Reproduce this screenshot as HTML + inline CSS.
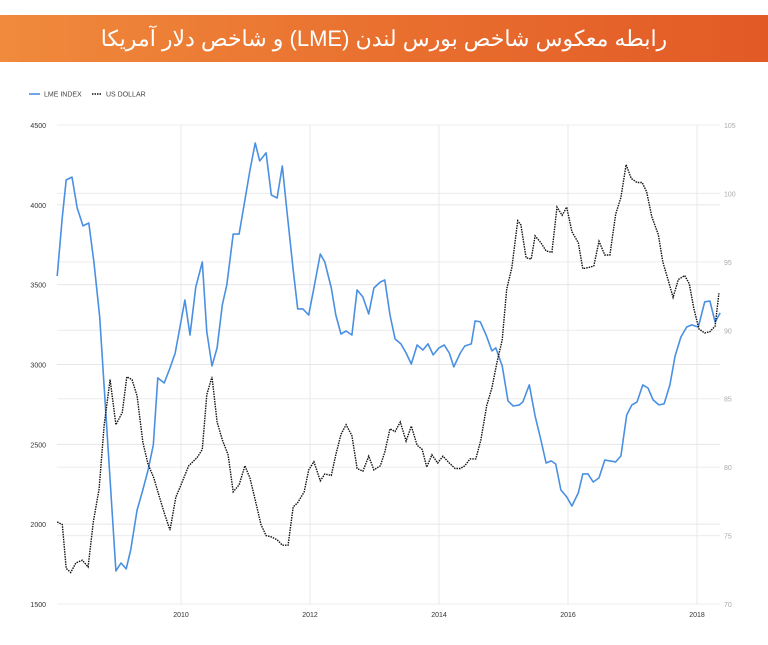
<!DOCTYPE html>
<html><head><meta charset="utf-8">
<style>
body{margin:0;width:768px;height:645px;background:#fff;overflow:hidden;font-family:"Liberation Sans","Noto Sans CJK SC",sans-serif;}
#hdr{position:absolute;left:0;top:15px;width:768px;height:47px;background:linear-gradient(90deg,#f08a3c,#e9702f 50%,#e25a26);color:#fff;font-size:22px;text-align:center;line-height:47px;direction:rtl;font-family:"Liberation Sans","Noto Sans CJK SC","WenQuanYi Zen Hei",sans-serif;}
svg{position:absolute;left:0;top:0;}
</style></head><body>
<div id="hdr">رابطه معکوس شاخص بورس لندن (LME) و شاخص دلار آمریکا</div>
<svg id="c" width="768" height="645"></svg>
<script>
const lmeDates=[2008.08,2008.16,2008.22,2008.31,2008.39,2008.48,2008.57,2008.65,2008.74,2008.99,2009.07,2009.15,2009.22,2009.32,2009.40,2009.49,2009.57,2009.64,2009.74,2009.83,2009.91,2010.06,2010.14,2010.23,2010.33,2010.40,2010.48,2010.56,2010.64,2010.71,2010.81,2010.90,2010.99,2011.07,2011.15,2011.22,2011.32,2011.40,2011.49,2011.57,2011.64,2011.74,2011.81,2011.89,2011.98,2012.06,2012.16,2012.23,2012.33,2012.40,2012.48,2012.56,2012.65,2012.73,2012.82,2012.91,2012.99,2013.09,2013.16,2013.24,2013.32,2013.41,2013.49,2013.57,2013.66,2013.75,2013.83,2013.91,2014.00,2014.08,2014.16,2014.23,2014.33,2014.40,2014.50,2014.56,2014.64,2014.73,2014.82,2014.88,2014.98,2015.07,2015.15,2015.24,2015.30,2015.40,2015.49,2015.58,2015.66,2015.74,2015.81,2015.89,2015.98,2016.06,2016.16,2016.23,2016.31,2016.39,2016.48,2016.57,2016.65,2016.74,2016.82,2016.91,2016.99,2017.07,2017.16,2017.24,2017.32,2017.41,2017.49,2017.58,2017.66,2017.75,2017.84,2017.92,2018.02,2018.12,2018.20,2018.28,2018.36];
const lmeValues=[3554,3924,4156,4174,3980,3868,3886,3642,3298,1707,1757,1720,1839,2089,2202,2340,2496,2916,2884,2978,3072,3404,3185,3486,3642,3204,2991,3104,3373,3498,3817,3817,4030,4218,4387,4275,4325,4062,4043,4243,3968,3592,3348,3348,3310,3479,3692,3642,3479,3310,3191,3210,3185,3467,3423,3316,3479,3517,3529,3310,3160,3129,3072,3003,3122,3091,3129,3060,3104,3122,3072,2985,3072,3116,3129,3273,3267,3185,3085,3104,2991,2772,2740,2746,2765,2872,2678,2527,2383,2396,2377,2214,2171,2114,2196,2315,2315,2264,2290,2402,2396,2390,2427,2684,2747,2765,2872,2853,2778,2747,2753,2872,3053,3172,3235,3248,3235,3392,3398,3266,3323];
const usdDates=[2008.08,2008.16,2008.22,2008.29,2008.37,2008.47,2008.56,2008.64,2008.73,2008.81,2008.90,2008.99,2009.09,2009.16,2009.24,2009.32,2009.41,2009.49,2009.58,2009.66,2009.75,2009.83,2009.92,2010.00,2010.12,2010.25,2010.33,2010.40,2010.48,2010.56,2010.64,2010.73,2010.81,2010.90,2010.99,2011.07,2011.15,2011.24,2011.32,2011.40,2011.49,2011.57,2011.66,2011.74,2011.81,2011.91,2011.98,2012.06,2012.16,2012.23,2012.33,2012.40,2012.48,2012.56,2012.65,2012.73,2012.82,2012.91,2012.99,2013.09,2013.16,2013.24,2013.32,2013.40,2013.49,2013.57,2013.66,2013.74,2013.81,2013.89,2013.98,2014.06,2014.16,2014.25,2014.33,2014.40,2014.48,2014.57,2014.65,2014.74,2014.82,2014.90,2014.98,2015.05,2015.13,2015.22,2015.27,2015.35,2015.43,2015.49,2015.58,2015.66,2015.75,2015.83,2015.91,2015.98,2016.06,2016.16,2016.23,2016.33,2016.40,2016.48,2016.57,2016.65,2016.74,2016.82,2016.90,2016.98,2017.07,2017.15,2017.22,2017.30,2017.40,2017.47,2017.55,2017.63,2017.71,2017.81,2017.88,2017.95,2018.03,2018.12,2018.20,2018.28,2018.34];
const usdValues=[76.0,75.8,72.6,72.3,73.0,73.2,72.7,76.0,78.4,83.1,86.4,83.1,84.0,86.6,86.4,85.2,81.8,80.2,79.2,77.9,76.5,75.4,77.8,78.7,80.1,80.7,81.3,85.3,86.6,83.3,82.0,80.9,78.2,78.7,80.1,79.2,77.6,75.8,75.0,74.9,74.7,74.3,74.3,77.1,77.4,78.2,79.8,80.4,79.0,79.5,79.4,80.9,82.4,83.1,82.3,79.9,79.7,80.8,79.8,80.1,81.1,82.8,82.6,83.3,81.9,83.0,81.6,81.3,80.0,80.9,80.3,80.8,80.3,79.9,79.9,80.1,80.6,80.6,82.0,84.5,85.8,87.7,89.3,93.0,94.6,98.0,97.7,95.3,95.2,96.9,96.4,95.8,95.7,99.0,98.4,99.0,97.2,96.4,94.5,94.6,94.7,96.5,95.5,95.5,98.5,99.7,102.1,101.1,100.8,100.8,100.1,98.3,97.0,95.0,93.7,92.4,93.7,94.0,93.4,91.6,90.1,89.8,89.9,90.3,92.7];
const leftTicks=[1500,2000,2500,3000,3500,4000,4500];
const rightTicks=[70,75,80,85,90,95,100,105];
const xTicks=[2010,2012,2014,2016,2018];

const X0=57,X1=720,Y0=125,Y1=604;
const xs=d=>181+(d-2010)*64.5;
const yl=v=>Y1-(v-1500)/3000*(Y1-Y0);
const yr=v=>Y1-(v-70)/35*(Y1-Y0);
const svg=document.getElementById('c');
const NS='http://www.w3.org/2000/svg';
function mk(t,a){const e=document.createElementNS(NS,t);for(const k in a)e.setAttribute(k,a[k]);svg.appendChild(e);return e;}

leftTicks.forEach(v=>{
  const l=mk('line',{x1:X0,x2:X1,y1:yl(v),y2:yl(v),stroke:'#e6e6e6','stroke-width':1});
  
  
  const t=mk('text',{x:46,y:yl(v)+3,'text-anchor':'end','font-size':7,fill:'#333'});
  t.textContent=v;
  
  
});
rightTicks.forEach(v=>{
  const l=mk('line',{x1:X0,x2:X1,y1:yr(v),y2:yr(v),stroke:'#ececec','stroke-width':1});
  
  
  const t=mk('text',{x:724,y:yr(v)+3,'font-size':7,fill:'#aaa'});
  t.textContent=v;
  
  
});
xTicks.forEach(v=>{
  const l=mk('line',{x1:xs(v),x2:xs(v),y1:Y0,y2:Y1,stroke:'#e8e8e8','stroke-width':1});
  
  
  const t=mk('text',{x:xs(v),y:617,'text-anchor':'middle','font-size':7,fill:'#333'});
  t.textContent=v;
  
  
});

const lp=lmeDates.map((d,i)=>xs(d).toFixed(1)+','+yl(lmeValues[i]).toFixed(1)).join(' ');
const lme=mk('polyline',{points:lp,fill:'none',stroke:'#4a90e2','stroke-width':1.6,'stroke-linejoin':'round'});


const up=usdDates.map((d,i)=>xs(d).toFixed(1)+','+yr(usdValues[i]).toFixed(1)).join(' ');
const usd=mk('polyline',{points:up,fill:'none',stroke:'#111','stroke-width':1.4,'stroke-dasharray':'1.5,1'});



const g1=mk('line',{x1:29,x2:40,y1:94,y2:94,stroke:'#4a90e2','stroke-width':1.6});


const t1=mk('text',{x:44,y:96.5,'font-size':7,fill:'#444'});
t1.textContent='LME INDEX';


const g2=mk('line',{x1:92,x2:102,y1:94,y2:94,stroke:'#111','stroke-width':1.4,'stroke-dasharray':'1.5,1'});


const t2=mk('text',{x:106,y:96.5,'font-size':7,fill:'#444'});
t2.textContent='US DOLLAR';


</script>
</body></html>
